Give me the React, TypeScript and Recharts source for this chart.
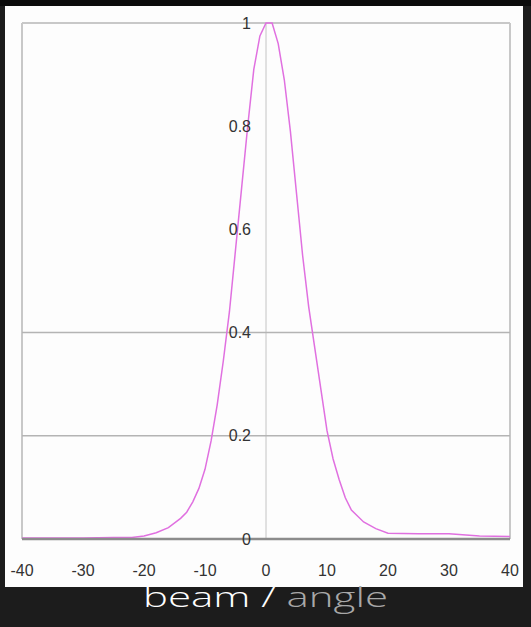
import { LineChart, Line, XAxis, YAxis, ReferenceLine } from 'recharts';

// beam profile: angle (deg) vs relative intensity
const angles = [
    -40, -35, -30, -25, -22, -20, -18, -16, -14, -13, -12, -11, -10, -9, -8, -7, -6, -5, -4, -3, -2, -1,
    0, 1, 2, 3, 4, 5, 6, 7, 8, 9, 10, 11, 12, 13, 14, 16, 18, 20, 25, 30, 35, 40,
];
const intensity = [
    0.002, 0.002, 0.002, 0.003, 0.003, 0.006, 0.012, 0.022, 0.04, 0.052, 0.072, 0.098, 0.135, 0.19, 0.26,
    0.345, 0.44, 0.56, 0.68, 0.8, 0.91, 0.975, 1.0, 1.0, 0.96, 0.89, 0.79, 0.67, 0.55, 0.45, 0.37, 0.29,
    0.21, 0.155, 0.115, 0.08, 0.056, 0.033, 0.02, 0.011, 0.01, 0.01, 0.006, 0.005,
];
const xTicks = [-40, -30, -20, -10, 0, 10, 20, 30, 40];
const yTicks = [0, 0.2, 0.4, 0.6, 0.8, 1];
const gridValues = [0.2, 0.4];

const data = angles.map((angle, i) => ({ angle, value: intensity[i] }));

const LABEL_FONT = '"Liberation Sans", Arial, sans-serif';

// y labels sit beside the x=0 line, not at the left edge
const renderYTick = (props: any) => {
    const { x, y, payload } = props;
    return (
        <text
            key={`yt-${payload.value}`}
            x={x + 229}
            y={y}
            dy="0.35em"
            textAnchor="end"
            fill="#333"
            fontSize={16}
            fontFamily={LABEL_FONT}
        >
            {String(payload.value)}
        </text>
    );
};

export default function App() {
    return (
        <div style={{ position: 'relative', width: 531, height: 627, background: '#1c1c1c', overflow: 'hidden' }}>
            <style>{'body{margin:0;background:#1c1c1c}'}</style>
            <div style={{ position: 'absolute', left: 0, top: 0, width: 531, height: 6, background: '#0b0b0b' }} />
            <div style={{ position: 'absolute', left: 5, top: 6, width: 518, height: 581, background: '#fdfdfd' }} />
            <div style={{ position: 'absolute', left: 0, top: 0 }}>
                <LineChart width={531} height={627} data={data} margin={{ top: 23, right: 21, left: 21, bottom: 58 }}>
                    <XAxis
                        dataKey="angle"
                        type="number"
                        domain={[-40, 40]}
                        ticks={xTicks}
                        height={30}
                        tickLine={false}
                        tickSize={6}
                        tickMargin={20}
                        axisLine={{ stroke: '#8c8c8c', strokeWidth: 2.5 }}
                        tick={{ fill: '#333', fontSize: 16, fontFamily: LABEL_FONT }}
                        interval={0}
                    />
                    <YAxis
                        type="number"
                        domain={[0, 1]}
                        ticks={yTicks}
                        width={1}
                        tickSize={0}
                        tickMargin={0}
                        tickLine={false}
                        axisLine={false}
                        tick={renderYTick}
                        interval={0}
                    />
                    <ReferenceLine y={1} stroke="#c8c8c8" strokeWidth={2} />
                    <ReferenceLine x={-40} stroke="#c8c8c8" strokeWidth={2} />
                    <ReferenceLine x={40} stroke="#c8c8c8" strokeWidth={2} />
                    <ReferenceLine x={0} stroke="#c4c4c4" strokeWidth={1} />
                    {gridValues.map((v) => (
                        <ReferenceLine key={v} y={v} stroke="#b4b4b4" strokeWidth={1.5} />
                    ))}
                    <Line
                        type="linear"
                        dataKey="value"
                        stroke="#e070e0"
                        strokeWidth={1.5}
                        dot={false}
                        isAnimationActive={false}
                    />
                </LineChart>
            </div>
            <svg width={531} height={627} style={{ position: 'absolute', left: 0, top: 0 }}>
                <text
                    x={143}
                    y={607}
                    fontSize={27}
                    fontWeight={300}
                    fontFamily='"Open Sans", "DejaVu Sans", sans-serif'
                    textLength={245}
                    lengthAdjust="spacingAndGlyphs"
                >
                    <tspan fill="#ffffff">beam / </tspan>
                    <tspan fill="#a8a8a8">angle</tspan>
                </text>
            </svg>
        </div>
    );
}
